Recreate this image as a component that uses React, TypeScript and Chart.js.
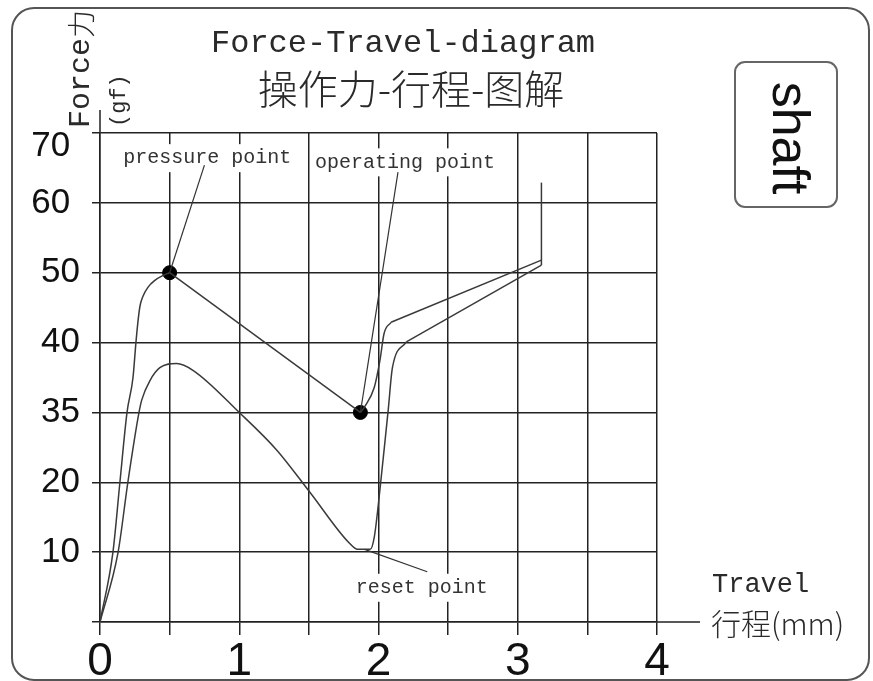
import React, { useEffect, useRef } from "react";
import { Chart, registerables } from "chart.js";

Chart.register(...registerables);

// Force levels shown on the y axis (equally spaced grid lines)
const forceLevels = [0, 10, 20, 35, 40, 50, 60, 70];
const travelLabels = ["0", "1", "2", "3", "4"];

// Press (downstroke) curve, part 1: origin -> pressure point
const riseTravel = [0, 0.093, 0.143, 0.194, 0.237, 0.258, 0.272, 0.287, 0.308, 0.344, 0.394, 0.452, 0.5];
const riseForce = [0, 10, 20, 35, 37.5, 40, 42.9, 45.2, 46.6, 47.9, 48.9, 49.6, 50];
// part 2: pressure point -> operating point (straight)
const dropTravel = [0.5, 1.87];
const dropForce = [50, 35];
// part 3: operating point -> knee
const pushTravel = [1.87, 1.9, 1.97, 2.01, 2.04, 2.09];
const pushForce = [35, 35.4, 36.8, 38.7, 41.3, 42.9];
// part 4: knee -> end of travel (straight)
const pushEndTravel = [2.09, 3.17];
const pushEndForce = [42.9, 51.8];
// end stop (vertical)
const stopTravel = [3.17, 3.17];
const stopForce = [51.1, 62.9];

// Release (upstroke) curve, from origin to knee
const releaseTravel = [0, 0.13, 0.2, 0.28, 0.3, 0.36, 0.43, 0.55, 0.67, 1.0, 1.27, 1.51, 1.79, 1.85, 1.94, 1.97, 2.01, 2.06, 2.07, 2.1, 2.2];
const releaseForce = [0, 10, 20, 35, 35.9, 37.3, 38.2, 38.5, 38.0, 35.0, 26.9, 18.5, 11.3, 10.4, 10.4, 12.2, 18.9, 32.7, 35.2, 38.2, 40.1];
// knee -> end of travel (straight)
const releaseEndTravel = [2.2, 3.17];
const releaseEndForce = [40.1, 51.1];

// Marked points
const pointNames = ["pressure point", "operating point", "reset point"];
const pointTravel = [0.5, 1.87, 1.9];
const pointForce = [50, 35, 10.4];
const leaderEndTravel = [0.75, 2.14, 2.35];
const leaderEndForce = [65.4, 64.4, 7.2];
const labelTravel = [0.77, 2.19, 2.31];
const labelForce = [66.4, 65.8, 4.9];

function toIdx(v: number): number {
  for (let i = 0; i < forceLevels.length - 1; i++) {
    const a = forceLevels[i], b = forceLevels[i + 1];
    if (v <= b || i === forceLevels.length - 2) {
      return i + (v - a) / (b - a);
    }
  }
  return 0;
}

const pts = (xs: number[], ys: number[]) => xs.map((x, i) => ({ x, y: toIdx(ys[i]) }));

const LINE = "#3a3a3a";
const GRID = "#222";

function curve(label: string, xs: number[], ys: number[], smooth: boolean) {
  return {
    label,
    data: pts(xs, ys),
    borderColor: LINE,
    borderWidth: 1.5,
    pointRadius: 0,
    showLine: true,
    fill: false,
    tension: smooth ? 0.4 : 0,
    cubicInterpolationMode: smooth ? "monotone" : "default",
  };
}

export default function App() {
  const ref = useRef<HTMLCanvasElement | null>(null);
  useEffect(() => {
    if (!ref.current) return;
    const extras = {
      id: "extras",
      beforeDatasetsDraw(chart: any) {
        const { ctx, scales } = chart;
        ctx.save();
        ctx.font = '20px "Liberation Mono"';
        ctx.fillStyle = "#fff";
        pointNames.forEach((t, i) => {
          const x = scales.x.getPixelForValue(labelTravel[i]);
          const y = scales.y.getPixelForValue(toIdx(labelForce[i]));
          const w = ctx.measureText(t).width;
          ctx.fillRect(x - w / 2 - 2, y - 14, w + 4, 28);
        });
        ctx.restore();
      },
      afterDatasetsDraw(chart: any) {
        const { ctx, scales } = chart;
        ctx.save();
        // axis extensions
        ctx.strokeStyle = GRID;
        ctx.lineWidth = 1.5;
        const x0 = scales.x.getPixelForValue(0);
        const x4 = scales.x.getPixelForValue(4);
        const y0 = scales.y.getPixelForValue(0);
        const y7 = scales.y.getPixelForValue(7);
        ctx.beginPath();
        ctx.moveTo(x4, y0);
        ctx.lineTo(x4 + 43, y0);
        ctx.moveTo(x0, y7);
        ctx.lineTo(x0, y7 - 23);
        ctx.stroke();

        // annotation texts
        ctx.fillStyle = "#333";
        ctx.font = '20px "Liberation Mono"';
        ctx.textAlign = "center";
        ctx.textBaseline = "middle";
        pointNames.forEach((t, i) => {
          const x = scales.x.getPixelForValue(labelTravel[i]);
          const y = scales.y.getPixelForValue(toIdx(labelForce[i]));
          ctx.fillText(t, x, y);
        });

        // outer border
        ctx.strokeStyle = "#555";
        ctx.lineWidth = 2;
        ctx.beginPath();
        ctx.roundRect(12, 8, 857, 672, 22);
        ctx.stroke();

        // title
        ctx.fillStyle = "#2a2a2a";
        ctx.textAlign = "center";
        ctx.textBaseline = "alphabetic";
        ctx.font = '32px "Liberation Mono"';
        ctx.fillText("Force-Travel-diagram", 403, 52);
        ctx.textBaseline = "middle";
        ctx.font = '300 40px "Noto Sans CJK SC"';
        ctx.fillText("操作力-行程-图解", 411, 89);

        // y axis title
        ctx.save();
        ctx.translate(81, 128);
        ctx.rotate(-Math.PI / 2);
        ctx.textAlign = "left";
        ctx.textBaseline = "middle";
        ctx.font = '30px "Liberation Mono"';
        ctx.fillText("Force", 0, 0);
        const fw = ctx.measureText("Force").width;
        ctx.font = '300 28px "Noto Sans CJK SC"';
        ctx.fillText("力", fw, 0);
        ctx.restore();
        ctx.save();
        ctx.translate(119, 127);
        ctx.rotate(-Math.PI / 2);
        ctx.textAlign = "left";
        ctx.textBaseline = "middle";
        ctx.font = '22px "Liberation Mono"';
        ctx.fillText("(gf)", 0, 0);
        ctx.restore();

        // x axis title
        ctx.textAlign = "left";
        ctx.textBaseline = "alphabetic";
        ctx.font = '27px "Liberation Mono"';
        ctx.fillText("Travel", 712, 592);
        ctx.textBaseline = "middle";
        ctx.font = '300 30px "Noto Sans CJK SC"';
        ctx.fillText("行程(mm)", 711, 624);

        // shaft box
        ctx.strokeStyle = "#666";
        ctx.lineWidth = 2;
        ctx.beginPath();
        ctx.roundRect(735, 62, 102, 145, 10);
        ctx.stroke();
        ctx.save();
        ctx.translate(787, 138);
        ctx.rotate(Math.PI / 2);
        ctx.textAlign = "center";
        ctx.textBaseline = "middle";
        ctx.fillStyle = "#111";
        ctx.font = '52px "Liberation Sans"';
        ctx.fillText("shaft", 0, 0);
        ctx.restore();

        ctx.restore();
      },
    };

    const leaders = pointNames.map((n, i) => ({
      label: n + " leader",
      data: pts([pointTravel[i], leaderEndTravel[i]], [pointForce[i], leaderEndForce[i]]),
      borderColor: "#333",
      borderWidth: 1.2,
      pointRadius: 0,
      showLine: true,
      fill: false,
    }));

    const chart = new Chart(ref.current, {
      type: "scatter",
      data: {
        datasets: [
          curve("press rise", riseTravel, riseForce, true),
          curve("press drop", dropTravel, dropForce, false),
          curve("press push", pushTravel, pushForce, true),
          curve("press end", pushEndTravel, pushEndForce, false),
          curve("end stop", stopTravel, stopForce, false),
          curve("release", releaseTravel, releaseForce, true),
          curve("release end", releaseEndTravel, releaseEndForce, false),
          ...leaders,
          {
            label: "points",
            data: pts(pointTravel.slice(0, 2), pointForce.slice(0, 2)),
            backgroundColor: "#000",
            borderColor: "#000",
            pointRadius: 7,
            showLine: false,
          },
        ] as any,
      },
      options: {
        responsive: false,
        animation: false,
        layout: { padding: { left: 0, top: 133, right: 216, bottom: 0 } },
        plugins: { legend: { display: false }, tooltip: { enabled: false }, title: { display: false } },
        scales: {
          x: {
            type: "linear",
            min: 0,
            max: 4,
            afterFit: (s: any) => { s.height = 59; },
            ticks: {
              stepSize: 0.5,
              autoSkip: false,
              maxRotation: 0,
              padding: 0,
              color: "#111",
              font: { family: "Liberation Sans", size: 46 },
              callback: (v: any) => (Number.isInteger(v) ? travelLabels[v] : ""),
            },
            grid: { color: GRID, lineWidth: 1.5, tickLength: 13 },
            border: { color: GRID, width: 1.5 },
          },
          y: {
            type: "linear",
            min: 0,
            max: 7,
            afterFit: (s: any) => { s.width = 100; },
            ticks: {
              stepSize: 1,
              autoSkip: false,
              padding: 12,
              color: "#111",
              font: { family: "Liberation Sans", size: 35, lineHeight: 0.76 },
              callback: (v: any) => {
                if (!(v > 0 && Number.isInteger(v))) return "";
                const t = String(forceLevels[v]);
                if (v === 7) return ["", t + " "];
                if (v === 6) return t + " ";
                return t;
              },
            },
            grid: { color: GRID, lineWidth: 1.5, tickLength: 8 },
            border: { color: GRID, width: 1.5 },
          },
        },
      },
      plugins: [extras],
    });
    return () => chart.destroy();
  }, []);

  return (
    <div style={{ position: "fixed", left: 0, top: 0, width: 873, height: 681, background: "#fff" }}>
      <canvas ref={ref} width={873} height={681} style={{ display: "block" }} />
    </div>
  );
}
